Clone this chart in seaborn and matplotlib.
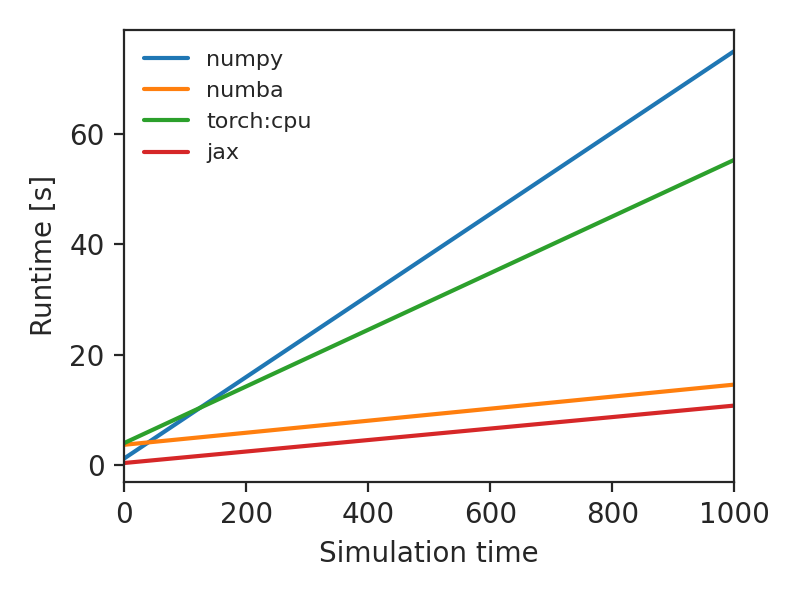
import matplotlib
matplotlib.use("Agg")
import matplotlib.pyplot as plt
import seaborn as sns
import pandas as pd

# data (straight lines, endpoints)
sim_time = [0, 1000]
numpy_rt = [1.2, 75.0]
numba_rt = [3.7, 14.6]
torch_rt = [4.0, 55.3]
jax_rt = [0.4, 10.8]

series = {"numpy": numpy_rt, "numba": numba_rt, "torch:cpu": torch_rt, "jax": jax_rt}
rows = []
for name, vals in series.items():
    for t, v in zip(sim_time, vals):
        rows.append({"Simulation time": t, "Runtime [s]": v, "backend": name})
df = pd.DataFrame(rows)

sns.set_style("ticks")
plt.rcParams["font.family"] = ["DejaVu Sans"]
fig, ax = plt.subplots(figsize=(4, 3), dpi=200)
fig.subplots_adjust(left=0.155, right=0.918, top=0.95, bottom=0.197)

sns.lineplot(data=df, x="Simulation time", y="Runtime [s]", hue="backend",
             palette=["#1f77b4", "#ff7f0e", "#2ca02c", "#d62728"], ax=ax, linewidth=1.5)
ax.set_xlim(0, 1000)
ax.set_ylim(-3, 78.8)
ax.set_yticks([0, 20, 40, 60])
ax.legend(frameon=False, fontsize=8, loc="upper left", title=None)
fig.savefig("out.png", dpi=200)
